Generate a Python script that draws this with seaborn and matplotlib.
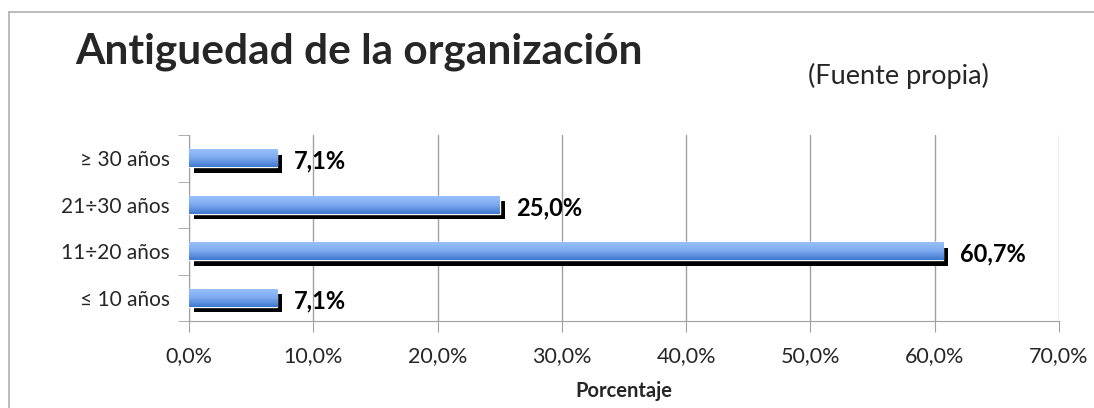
import matplotlib
matplotlib.use("Agg")
import matplotlib.pyplot as plt
import matplotlib.patheffects as pe
from matplotlib.lines import Line2D
from matplotlib.ticker import FuncFormatter, FixedLocator
import numpy as np
import pandas as pd
import seaborn as sns

# data
categorias = ["≥ 30 años", "21÷30 años", "11÷20 años", "≤ 10 años"]
porcentajes = [7.1, 25.0, 60.7, 7.1]
etiquetas = ["7,1%", "25,0%", "60,7%", "7,1%"]

df = pd.DataFrame({"categoria": categorias, "porcentaje": porcentajes})

sns.set_style("white")
plt.rcParams["font.family"] = ["Lato", "DejaVu Sans"]

fig = plt.figure(figsize=(10.94, 4.08), dpi=100)
ax = fig.add_axes([189 / 1094, 1 - 321 / 408, 870 / 1094, 186 / 408])

sns.barplot(data=df, x="porcentaje", y="categoria", color="#6a9ee8",
            width=0.39, ax=ax, zorder=3)

# gradient fill + black drop shadow on each bar
grad = np.linspace(0, 1, 64).reshape(-1, 1)
cmap = matplotlib.colors.LinearSegmentedColormap.from_list(
    "azul", ["#9cc3ff", "#7eaaf0", "#3f78cf"])
for bar in ax.patches:
    bar.set_path_effects([pe.SimplePatchShadow(offset=(3.6, -4.0), shadow_rgbFace="black",
                                               alpha=1.0), pe.Normal()])
    x0, y0 = bar.get_x(), bar.get_y()
    w, h = bar.get_width(), bar.get_height()
    im = ax.imshow(grad, cmap=cmap, aspect="auto", extent=(x0, x0 + w, y0 + h, y0),
                   zorder=4)
    im.set_clip_path(bar)

for i, (v, t) in enumerate(zip(porcentajes, etiquetas)):
    ax.text(v + 1.3, i + 0.06, t, va="center", ha="left", fontsize=17,
            fontweight="bold", color="black", zorder=5)

ax.set_xlim(0, 70)
ax.set_ylim(3.5, -0.5)
ax.set_xticks(np.arange(0, 71, 10))
ax.xaxis.set_major_formatter(FuncFormatter(lambda v, p: f"{v:.1f}%".replace(".", ",")))
ax.yaxis.set_minor_locator(FixedLocator([-0.5, 0.5, 1.5, 2.5, 3.5]))
ax.tick_params(axis="y", which="major", length=0, labelsize=15, pad=14)
ax.tick_params(axis="y", which="minor", length=8, color="#a0a0a0", direction="out", left=True)
ax.tick_params(axis="x", length=8, color="#a0a0a0", direction="out", bottom=True,
               labelsize=15.5, pad=10)
ax.grid(axis="x", color="#a0a0a0", lw=1, zorder=0)
ax.set_axisbelow(True)
for s in ["top", "right"]:
    ax.spines[s].set_visible(False)
for s in ["left", "bottom"]:
    ax.spines[s].set_color("#a0a0a0")
ax.set_ylabel("")
ax.set_xlabel("Porcentaje", fontsize=14.5, fontweight="bold", labelpad=11)

fig.text(75 / 1094, 1 - 52 / 408, "Antiguedad de la organización", fontsize=30.5,
         fontweight="bold", va="center", ha="left")
fig.text(808 / 1094, 1 - 76 / 408, "(Fuente propia)", fontsize=19.5, va="center", ha="left")

# outer chart frame (only top and left edges are visible)
top_y = 1 - 11.5 / 408
left_x = 8.5 / 1094
fig.add_artist(Line2D([left_x, 1.0], [top_y, top_y], transform=fig.transFigure,
                      color="#b0b0b0", lw=1.2))
fig.add_artist(Line2D([left_x, left_x], [0.0, top_y], transform=fig.transFigure,
                      color="#b0b0b0", lw=1.2))

fig.savefig("out.png", dpi=100)
